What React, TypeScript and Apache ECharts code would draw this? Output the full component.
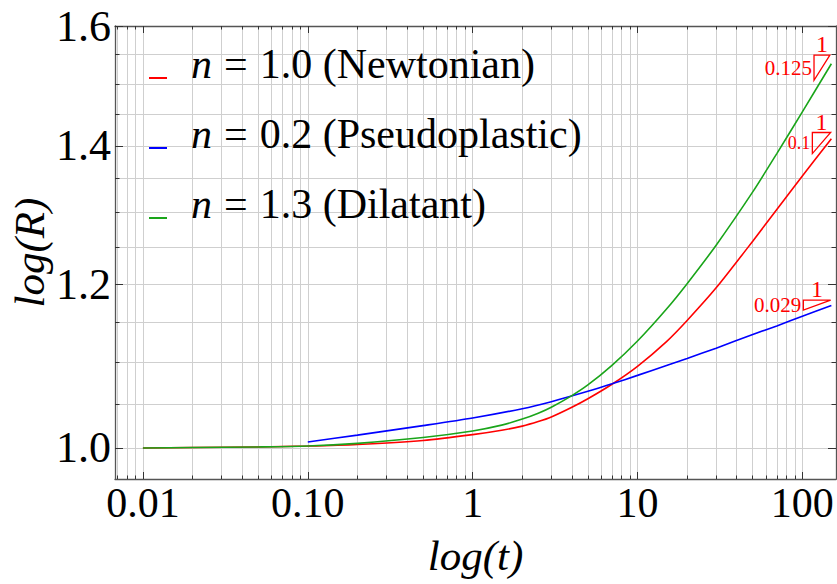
import React, { useEffect, useRef } from 'react';
import * as echarts from 'echarts';

const SERIF = "'Liberation Serif', 'Times New Roman', serif";
const RED = '#ff0000';
const BLUE = '#0000ff';
const GREEN = '#1aa51a';
const FRAME = '#555555';
const TICK = '#333333';
const GRID = '#cfcfcf';

// axis extents (log t, log R)
const T_RANGE = [0.00677, 160];
const R_RANGE = [0.966, 1.6];

// sampled curves
const tSamples = [0.01, 0.02, 0.05, 0.1, 0.2, 0.5, 1, 1.5, 2, 2.5, 3, 4, 5, 7, 10, 15, 20, 30, 50, 70, 100, 150];
const rNewtonian = [
  1.0, 1.00045, 1.00112, 1.00212, 1.00391, 1.0084, 1.01494, 1.01994, 1.02461, 1.02977, 1.03506,
  1.04632, 1.05629, 1.07351, 1.09516, 1.12574, 1.15255, 1.19523, 1.25898, 1.30428, 1.35394, 1.41131,
];
const rDilatant = [
  1.0, 1.00045, 1.00112, 1.00212, 1.00514, 1.01178, 1.01914, 1.02576, 1.03264, 1.03946, 1.04644,
  1.06006, 1.07267, 1.09638, 1.12649, 1.16743, 1.20084, 1.25338, 1.32999, 1.38804, 1.45413, 1.5341,
];
const tPseudo = [0.1, 0.2, 0.5, 1, 2, 3, 5, 7, 10, 15, 20, 30, 50, 70, 100, 150];
const rPseudoplastic = [1.0067, 1.0144, 1.0252, 1.0339, 1.0447, 1.0529, 1.0651, 1.074, 1.0842, 1.0962, 1.1048, 1.1176, 1.1348, 1.1456, 1.158, 1.1719];

const seriesNames = ['n = 1.0 (Newtonian)', 'n = 0.2 (Pseudoplastic)', 'n = 1.3 (Dilatant)'];

// tick positions
const xMajorTicks = [0.01, 0.1, 1, 10, 100];
const xMajorLabels = ['0.01', '0.10', '1', '10', '100'];
const xMinorTicks = [
  0.007, 0.008, 0.009,
  0.02, 0.03, 0.04, 0.05, 0.06, 0.07, 0.08, 0.09,
  0.2, 0.3, 0.4, 0.5, 0.6, 0.7, 0.8, 0.9,
  2, 3, 4, 5, 6, 7, 8, 9,
  20, 30, 40, 50, 60, 70, 80, 90,
];
const yMajorTicks = [1.0, 1.2, 1.4, 1.6];
const yMajorLabels = ['1.0', '1.2', '1.4', '1.6'];
const yMinorTicks = [1.05, 1.1, 1.15, 1.25, 1.3, 1.35, 1.45, 1.5, 1.55];

// slope triangles: [t left, t right, R bottom, R top]
const slopeTriangles = [
  [117.7, 146.9, 1.506, 1.549],
  [115, 148.5, 1.388, 1.421],
  [101.4, 148.5, 1.166, 1.179],
];
const slopeLabels = ['0.125', '0.1', '0.029'];
const slopeLabelSizes = [21, 18, 21];

const pickLabel = (ticks: number[], labels: string[]) => (v: number) => {
  const i = ticks.findIndex((t) => Math.abs(v - t) <= t * 1e-6);
  return i >= 0 ? labels[i] : '';
};

function makeAxis(
  kind: 'x' | 'y',
  position: string,
  ticks: number[],
  tickLen: number,
  opts: { line?: boolean; split?: boolean; labels?: string[] }
) {
  const range = kind === 'x' ? T_RANGE : R_RANGE;
  const labelStyle = kind === 'x' ? { fontSize: 42, margin: 3 } : { fontSize: 44, margin: 4 };
  return {
    type: 'log',
    logBase: 10,
    position,
    min: range[0],
    max: range[1],
    axisLine: { show: !!opts.line, onZero: false, lineStyle: { color: FRAME, width: 1.3 } },
    axisTick: {
      show: true,
      inside: true,
      length: tickLen,
      customValues: ticks,
      lineStyle: { color: TICK, width: 1 },
    },
    axisLabel: opts.labels
      ? {
          show: true,
          customValues: ticks,
          formatter: pickLabel(ticks, opts.labels),
          fontFamily: SERIF,
          color: '#000',
          ...labelStyle,
        }
      : { show: false },
    splitLine: { show: !!opts.split, lineStyle: { color: GRID, width: 1 } },
    minorTick: { show: false },
    minorSplitLine: { show: false },
  };
}

export default function App() {
  const ref = useRef<HTMLDivElement>(null);

  useEffect(() => {
    if (!ref.current) return;
    const chart = echarts.init(ref.current, undefined, { renderer: 'svg' });

    const xMain: any = makeAxis('x', 'bottom', xMajorTicks, 7, { line: true, split: true, labels: xMajorLabels });
    Object.assign(xMain, {
      name: 'log(t)',
      nameLocation: 'middle',
      nameGap: 55,
      nameMoveOverlap: false,
      nameTextStyle: { fontFamily: SERIF, fontStyle: 'italic', fontSize: 43, color: '#000' },
    });
    const yMain: any = makeAxis('y', 'left', yMajorTicks, 8, { line: true, split: true, labels: yMajorLabels });
    Object.assign(yMain, {
      name: 'log(R)',
      nameLocation: 'middle',
      nameRotate: 90,
      nameGap: 64,
      nameMoveOverlap: false,
      nameTextStyle: { fontFamily: SERIF, fontStyle: 'italic', fontSize: 43, color: '#000' },
    });

    const lineSeries = [
      { name: seriesNames[0], color: RED, t: tSamples, r: rNewtonian },
      { name: seriesNames[1], color: BLUE, t: tPseudo, r: rPseudoplastic },
      { name: seriesNames[2], color: GREEN, t: tSamples, r: rDilatant },
    ].map((s) => ({
      type: 'line',
      name: s.name,
      xAxisIndex: 0,
      yAxisIndex: 0,
      data: s.t.map((t, i) => [t, s.r[i]]),
      showSymbol: false,
      smooth: 0.25,
      color: s.color,
      lineStyle: { color: s.color, width: 1.6 },
      z: 3,
    }));

    const legendText = { fontFamily: SERIF, fontSize: 42, lineHeight: 40, color: '#000' };

    chart.setOption({
      animation: false,
      backgroundColor: '#ffffff',
      grid: { left: 113, right: 1, top: 26, bottom: 105, containLabel: false },
      legend: {
        show: true,
        orient: 'vertical',
        left: 149,
        top: 43,
        padding: 0,
        itemGap: 0,
        itemWidth: 18,
        itemHeight: 2,
        icon: 'rect',
        data: seriesNames,
        selectedMode: false,
        formatter: (name: string) => {
          const [sym, rest] = name.split(' = ');
          return `{i|${sym}}{e|=}{r|${rest}}`;
        },
        textStyle: {
          ...legendText,
          rich: {
            i: { ...legendText, fontStyle: 'italic', padding: [0, 0, 28, 19] },
            e: { ...legendText, padding: [0, 12, 28, 12] },
            r: { ...legendText, padding: [0, 0, 28, 0] },
          },
        },
      },
      xAxis: [
        xMain,
        makeAxis('x', 'bottom', xMinorTicks, 3.5, { split: true }),
        makeAxis('x', 'top', xMajorTicks, 7, { line: true }),
        makeAxis('x', 'top', xMinorTicks, 3.5, {}),
      ],
      yAxis: [
        yMain,
        makeAxis('y', 'left', yMinorTicks, 4.5, { split: true }),
        makeAxis('y', 'right', yMajorTicks, 8, { line: true }),
        makeAxis('y', 'right', yMinorTicks, 4.5, {}),
      ],
      series: [
        ...lineSeries,
        {
          type: 'custom',
          name: 'slopes',
          xAxisIndex: 0,
          yAxisIndex: 0,
          encode: { x: [0, 1], y: [2, 3] },
          data: slopeTriangles,
          z: 4,
          renderItem: (params: any, api: any) => {
            const i = params.dataIndex;
            const tl = api.coord([api.value(0), api.value(3)]);
            const tr = api.coord([api.value(1), api.value(3)]);
            const bl = api.coord([api.value(0), api.value(2)]);
            return {
              type: 'group',
              children: [
                {
                  type: 'polygon',
                  shape: { points: [tl, tr, bl] },
                  style: { fill: 'none', stroke: RED, lineWidth: 1.3 },
                },
                {
                  type: 'text',
                  x: (tl[0] + tr[0]) / 2,
                  y: tl[1] + 1,
                  style: {
                    text: '1',
                    align: 'center',
                    verticalAlign: 'bottom',
                    fontFamily: SERIF,
                    fontSize: 24,
                    fill: RED,
                  },
                },
                {
                  type: 'text',
                  x: tl[0] - 2,
                  y: (tl[1] + bl[1]) / 2,
                  style: {
                    text: slopeLabels[i],
                    align: 'right',
                    verticalAlign: 'middle',
                    fontFamily: SERIF,
                    fontSize: slopeLabelSizes[i],
                    fill: RED,
                  },
                },
              ],
            };
          },
        },
      ],
    });

    return () => chart.dispose();
  }, []);

  return (
    <div
      ref={ref}
      style={{ position: 'fixed', left: 0, top: 0, width: 837, height: 584, background: '#fff' }}
    />
  );
}
